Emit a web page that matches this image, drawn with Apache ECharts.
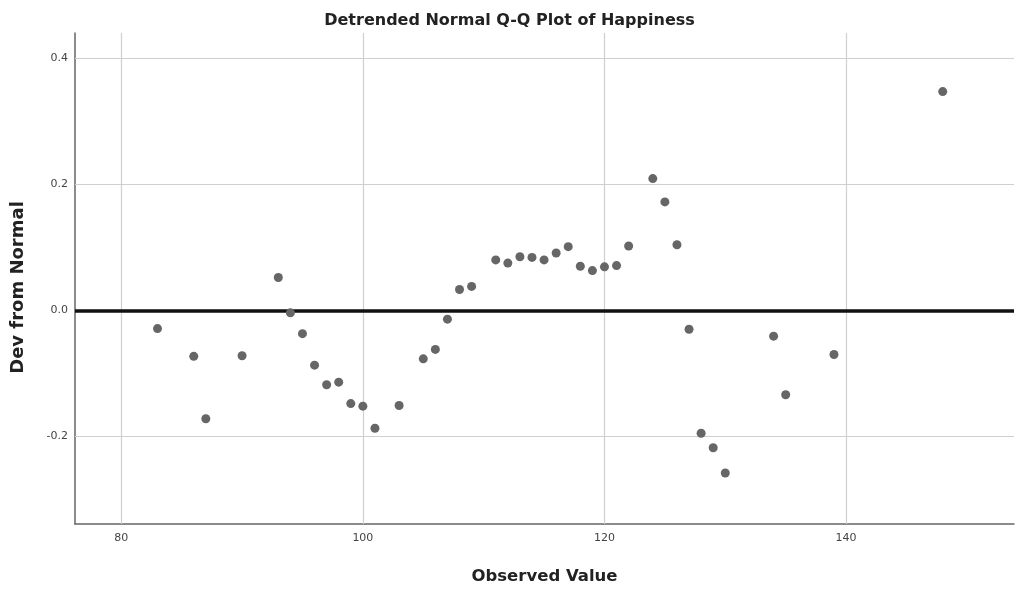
<!DOCTYPE html>
<html>
<head>
<meta charset="utf-8">
<script src="https://cdn.jsdelivr.net/npm/echarts@6/dist/echarts.min.js"></script>
<style>
html,body{margin:0;padding:0;background:#fff;}
#chart{width:1019px;height:590px;}
</style>
</head>
<body>
<div id="chart"></div>
<script>
const observedValues = [83, 86, 87, 90, 93, 94, 95, 96, 97, 98, 99, 100, 101, 103, 105, 106, 107, 108, 109, 111, 112, 113, 114, 115, 116, 117, 118, 119, 120, 121, 122, 124, 125, 126, 127, 128, 129, 130, 134, 135, 139, 148];
const devFromNormal = [-0.029, -0.073, -0.172, -0.072, 0.052, -0.004, -0.037, -0.087, -0.118, -0.114, -0.148, -0.152, -0.187, -0.151, -0.077, -0.062, -0.014, 0.033, 0.038, 0.080, 0.075, 0.085, 0.084, 0.080, 0.091, 0.101, 0.070, 0.063, 0.069, 0.071, 0.102, 0.209, 0.172, 0.104, -0.030, -0.195, -0.218, -0.258, -0.041, -0.134, -0.070, 0.347];
const xTicks = [80, 100, 120, 140];
const yTicks = [-0.2, 0.0, 0.2, 0.4];
const referenceLine = 0;

const FONT = '"DejaVu Sans", Verdana, sans-serif';
const points = observedValues.map((v, i) => [v, devFromNormal[i]]);

const chart = echarts.init(document.getElementById('chart'), null, {renderer: 'canvas'});
chart.setOption({
  animation: false,
  backgroundColor: '#ffffff',
  title: {
    text: 'Detrended Normal Q-Q Plot of Happiness',
    left: 'center',
    top: 8,
    textStyle: {fontFamily: FONT, fontSize: 16, fontWeight: 'bold', color: '#222'}
  },
  grid: {left: 75, right: 5, top: 33, bottom: 66, containLabel: false},
  xAxis: {
    type: 'value',
    min: 76.17,
    max: 153.9,
    name: 'Observed Value',
    nameLocation: 'middle',
    nameGap: 44,
    nameTextStyle: {fontFamily: FONT, fontSize: 16.5, fontWeight: 'bold', color: '#222'},
    axisLine: {show: true, onZero: false, lineStyle: {color: '#666', width: 1.5}},
    axisTick: {show: false, customValues: xTicks},
    axisLabel: {customValues: xTicks, fontFamily: FONT, fontSize: 11, color: '#444', margin: 9},
    splitLine: {show: false}
  },
  yAxis: {
    type: 'value',
    min: -0.339,
    max: 0.44,
    name: 'Dev from Normal',
    nameLocation: 'middle',
    nameGap: 48,
    nameTextStyle: {fontFamily: FONT, fontSize: 18, fontWeight: 'bold', color: '#222', padding: [0, 18, 0, 0]},
    axisLine: {show: true, onZero: false, lineStyle: {color: '#666', width: 1.5}},
    axisTick: {show: false, customValues: yTicks},
    axisLabel: {customValues: yTicks, fontFamily: FONT, fontSize: 11, color: '#444', margin: 7,
      formatter: v => v.toFixed(1)},
    splitLine: {show: false}
  },
  series: [
    {
      type: 'scatter',
      data: [],
      silent: true,
      z: 1,
      markLine: {
        silent: true,
        symbol: 'none',
        label: {show: false},
        lineStyle: {color: '#cfcfcf', width: 1.2, type: 'solid'},
        data: xTicks.map(v => ({xAxis: v})).concat(yTicks.filter(v => v !== referenceLine).map(v => ({yAxis: v})))
      }
    },
    {
      type: 'scatter',
      data: [],
      silent: true,
      z: 2,
      markLine: {
        silent: true,
        symbol: 'none',
        label: {show: false},
        lineStyle: {color: '#111', width: 3.5, type: 'solid'},
        data: [{yAxis: referenceLine}]
      }
    },
    {
      type: 'scatter',
      data: points,
      symbol: 'circle',
      symbolSize: 9,
      z: 5,
      itemStyle: {color: '#666666', opacity: 1}
    }
  ]
});
</script>
</body>
</html>
